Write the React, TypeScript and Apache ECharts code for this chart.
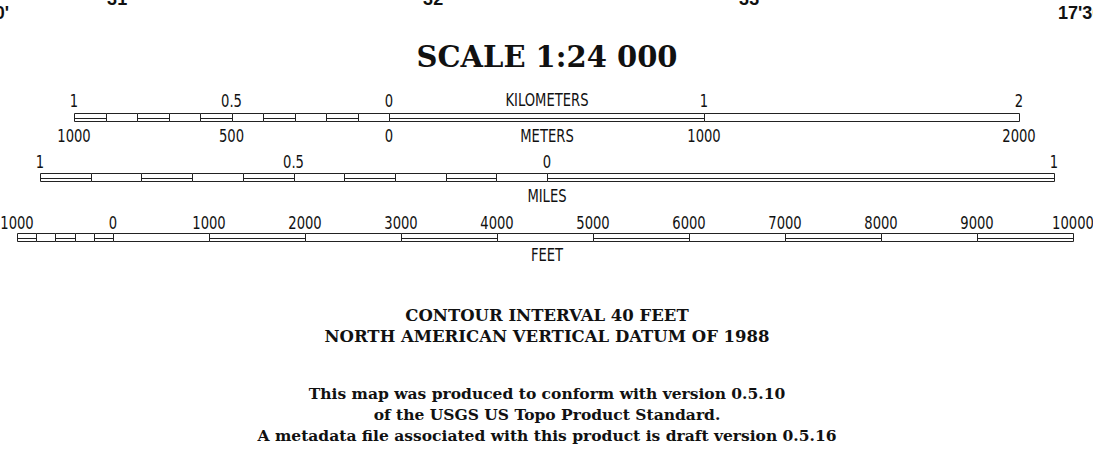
import React, { useEffect, useRef } from "react";
import * as echarts from "echarts";

// ---------- data ----------
const kmBounds = [-1, -0.9, -0.8, -0.7, -0.6, -0.5, -0.4, -0.3, -0.2, -0.1, 0, 1, 2];
const kmFilled = [1, 0, 1, 0, 1, 0, 1, 0, 1, 0, 1, 0];
const kmTickValues = [-1, -0.5, 0, 1, 2];
const kmTickLabels = ["1", "0.5", "0", "1", "2"];
const meterTickLabels = ["1000", "500", "0", "1000", "2000"];

const mileBounds = [-1, -0.9, -0.8, -0.7, -0.6, -0.5, -0.4, -0.3, -0.2, -0.1, 0, 1];
const mileFilled = [1, 0, 1, 0, 1, 0, 1, 0, 1, 0, 1];
const mileTickValues = [-1, -0.5, 0, 1];
const mileTickLabels = ["1", "0.5", "0", "1"];

const feetBounds = [-1000, -800, -600, -400, -200, 0, 1000, 2000, 3000, 4000, 5000, 6000, 7000, 8000, 9000, 10000];
const feetFilled = [1, 0, 1, 0, 1, 0, 1, 0, 1, 0, 1, 0, 1, 0, 1];
const feetTickValues = [-1000, 0, 1000, 2000, 3000, 4000, 5000, 6000, 7000, 8000, 9000, 10000];
const feetTickLabels = ["1000", "0", "1000", "2000", "3000", "4000", "5000", "6000", "7000", "8000", "9000", "10000"];

const titleText = "SCALE 1:24 000";
const unitLabels = ["KILOMETERS", "METERS", "MILES", "FEET"];
const datumLines = ["CONTOUR INTERVAL 40 FEET", "NORTH AMERICAN VERTICAL DATUM OF 1988"];
const noteLines = [
  "This map was produced to conform with version 0.5.10",
  "of the USGS US Topo Product Standard.",
  "A metadata file associated with this product is draft version 0.5.16",
];
const edgeLabels = ["'31", "'32", "'33", "'", "30'", "17'30\""];

// ---------- styles ----------
const SANS = "'DejaVu Sans Condensed', 'Liberation Sans Narrow', 'Liberation Sans', sans-serif";
const SERIF = "'DejaVu Serif', 'Liberation Serif', serif";
const EDGE = "'Liberation Sans', Arial, sans-serif";
const INK = "#111";
const LINE = "#222";
const NARROW = 0.86;

function segData(bounds: number[], filled: number[]) {
  return filled.map((f, i) => [bounds[i], bounds[i + 1], f]);
}

function segRender(params: any, api: any) {
  const s = api.value(0);
  const e = api.value(1);
  const f = api.value(2);
  const p0 = api.coord([s, 1]);
  const p1 = api.coord([e, 0]);
  const x0 = Math.round(p0[0]) + 0.5;
  const y0 = Math.round(p0[1]) + 0.5;
  const x1 = Math.round(p1[0]) + 0.5;
  const y1 = Math.round(p1[1]) + 0.5;
  const children: any[] = [
    {
      type: "rect",
      shape: { x: x0, y: y0, width: x1 - x0, height: y1 - y0 },
      style: { fill: "#fff", stroke: LINE, lineWidth: 1 },
    },
  ];
  if (f) {
    const ym = Math.round((y0 + y1) / 2) + 0.5;
    children.push({
      type: "line",
      shape: { x1: x0, y1: ym, x2: x1, y2: ym },
      style: { stroke: LINE, lineWidth: 1 },
    });
  }
  return { type: "group", children };
}

function labelSeries(idx: number, values: number[], labels: string[], above: boolean, offset: number) {
  return {
    type: "custom",
    xAxisIndex: idx,
    yAxisIndex: idx,
    clip: false,
    silent: true,
    data: values.map((v, i) => [v, i]),
    encode: { x: 0 },
    renderItem: (params: any, api: any) => {
      const v = api.value(0);
      const i = api.value(1);
      const p = api.coord([v, above ? 1 : 0]);
      return {
        type: "text",
        x: p[0],
        y: p[1] + offset,
        scaleX: NARROW,
        style: {
          text: labels[i],
          align: "center",
          verticalAlign: "middle",
          font: `17px ${SANS}`,
          fill: INK,
        },
      };
    },
  };
}

function segSeries(idx: number, bounds: number[], filled: number[]) {
  return {
    type: "custom",
    xAxisIndex: idx,
    yAxisIndex: idx,
    clip: false,
    silent: true,
    data: segData(bounds, filled),
    encode: { x: [0, 1] },
    renderItem: segRender,
  };
}

function txt(text: string, x: number, y: number, font: string, align = "center", scaleX = 1) {
  return {
    type: "text",
    x,
    y,
    scaleX,
    silent: true,
    style: { text, align, verticalAlign: "middle", font, fill: INK },
  };
}

export default function App() {
  const ref = useRef<HTMLDivElement>(null);
  useEffect(() => {
    if (!ref.current) return;
    const chart = echarts.init(ref.current, undefined, { renderer: "svg" });
    const hidden = { show: false };
    const option: any = {
      animation: false,
      backgroundColor: "#fff",
      grid: [
        { left: 74, right: 74, top: 113, height: 8 },
        { left: 40, right: 39, top: 173, height: 8 },
        { left: 17, right: 20, top: 233, height: 8 },
      ],
      xAxis: [
        { type: "value", gridIndex: 0, min: -1, max: 2, ...hidden },
        { type: "value", gridIndex: 1, min: -1, max: 1, ...hidden },
        { type: "value", gridIndex: 2, min: -1000, max: 10000, ...hidden },
      ],
      yAxis: [
        { type: "value", gridIndex: 0, min: 0, max: 1, ...hidden },
        { type: "value", gridIndex: 1, min: 0, max: 1, ...hidden },
        { type: "value", gridIndex: 2, min: 0, max: 1, ...hidden },
      ],
      series: [
        segSeries(0, kmBounds, kmFilled),
        labelSeries(0, kmTickValues, kmTickLabels, true, -12),
        labelSeries(0, kmTickValues, meterTickLabels, false, 15),
        segSeries(1, mileBounds, mileFilled),
        labelSeries(1, mileTickValues, mileTickLabels, true, -10.5),
        segSeries(2, feetBounds, feetFilled),
        labelSeries(2, feetTickValues, feetTickLabels, true, -9.5),
      ],
      graphic: [
        txt(edgeLabels[0], 115, -1, `bold 18px ${EDGE}`),
        txt(edgeLabels[1], 431, -1, `bold 18px ${EDGE}`),
        txt(edgeLabels[2], 747, -1, `bold 18px ${EDGE}`),
        txt(edgeLabels[3], 975, 2, `bold 18px ${EDGE}`),
        txt(edgeLabels[4], 9, 13, `bold 18px ${EDGE}`, "right"),
        txt(edgeLabels[5], 1058, 13, `bold 18px ${EDGE}`, "left"),
        txt(titleText, 547, 57, `bold 29px ${SERIF}`),
        txt(unitLabels[0], 547, 100, `17px ${SANS}`, "center", NARROW),
        txt(unitLabels[1], 547, 136, `17px ${SANS}`, "center", NARROW),
        txt(unitLabels[2], 547, 196, `17px ${SANS}`, "center", NARROW),
        txt(unitLabels[3], 547, 255, `17px ${SANS}`, "center", NARROW),
        txt(datumLines[0], 547, 315, `bold 16.5px ${SERIF}`),
        txt(datumLines[1], 547, 336, `bold 16.5px ${SERIF}`),
        txt(noteLines[0], 547, 393, `bold 15.5px ${SERIF}`),
        txt(noteLines[1], 547, 414, `bold 15.5px ${SERIF}`),
        txt(noteLines[2], 547, 435, `bold 15.5px ${SERIF}`),
      ],
    };
    chart.setOption(option);
    return () => chart.dispose();
  }, []);
  return (
    <div
      ref={ref}
      style={{ position: "fixed", left: 0, top: 0, width: 1093, height: 463, background: "#fff" }}
    />
  );
}
